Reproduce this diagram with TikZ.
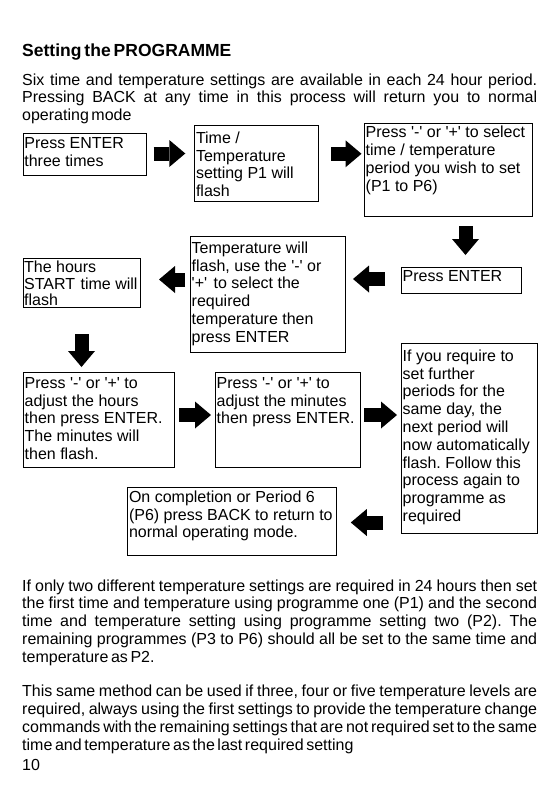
\documentclass[tikz,border=0pt]{standalone}
\usepackage{fontspec}
\setmainfont{Liberation Sans}[Ligatures=TeXOff]
\usetikzlibrary{arrows.meta}
\frenchspacing
\newcommand{\bodyfont}{\fontsize{16}{17.8}\selectfont}
\newcommand{\tightsp}{\spaceskip=2.6pt plus 1pt minus 0.5pt\relax}
\newcommand{\parasetup}{\bodyfont\frenchspacing\tolerance=10000\hyphenpenalty=10000\exhyphenpenalty=10000\spaceskip=4.45pt plus 4pt minus 2pt\relax}
\begin{document}
\begin{tikzpicture}[x=1pt,y=-1pt,
  box/.style={draw=black, line width=1pt, anchor=north west, inner sep=0pt},
  boxtxt/.style={anchor=north west, align=left, inner sep=0pt, font=\fontsize{16}{17.8}\selectfont\frenchspacing},
  para/.style={anchor=north west, inner sep=0pt, text width=515pt, align=justify, font=\parasetup},
  barrow/.style={line width=14pt, -{Triangle[width=27pt,length=16pt,line width=0pt]}}
]
\useasboundingbox[fill=white] (0,0) rectangle (559,793);

% heading and paragraphs
\node[anchor=base west, inner sep=0pt, font=\fontsize{17.5}{20}\selectfont\bfseries] (h) at (22,56) {\spaceskip=3pt\relax Setting the PROGRAMME};
\node[para] (p1) at (22,73.3) {\noindent Six time and temperature settings are available in each 24 hour period.\linebreak Pressing BACK at any time in this process will return you to normal\linebreak {\tightsp operating mode}};

% boxes
\node[box, minimum width=123pt, minimum height=42pt] (b1) at (22.7,133) {};
\node[box, minimum width=124pt, minimum height=76pt] (b2) at (194.3,125) {};
\node[box, minimum width=168pt, minimum height=93pt] (b3) at (364,123) {};
\node[box, minimum width=120pt, minimum height=26pt] (b4) at (401,267) {};
\node[box, minimum width=155pt, minimum height=116pt] (b5) at (190,236) {};
\node[box, minimum width=117pt, minimum height=49pt] (b6) at (23,258) {};
\node[box, minimum width=151pt, minimum height=95pt] (b7) at (23,372) {};
\node[box, minimum width=145pt, minimum height=95pt] (b8) at (215,372) {};
\node[box, minimum width=136pt, minimum height=190pt] (b9) at (401,343) {};
\node[box, minimum width=209pt, minimum height=68pt] (b10) at (127.3,487) {};

% box texts
\node[boxtxt] (t1) at ([xshift=1.5pt,yshift=-4pt]b1.north west) {Press ENTER\\three times};
\node[boxtxt] (t2) at ([xshift=1.5pt,yshift=-6.5pt]b2.north west) {Time /\\Temperature\\setting P1 will\\flash};
\node[boxtxt] (t3) at ([xshift=1.5pt,yshift=-3pt]b3.north west) {Press '-' or '+' to select\\time / temperature\\period you wish to set\\(P1 to P6)};
\node[boxtxt] (t4) at ([xshift=1.5pt,yshift=-3.7pt]b4.north west) {Press ENTER};
\node[boxtxt] (t5) at ([xshift=1.5pt,yshift=-5.5pt]b5.north west) {Temperature will\\flash, use the '-' or\\'+'\hspace{2pt} to select the\\required\\temperature then\\press ENTER};
\node[boxtxt, font=\fontsize{16}{16.5}\selectfont] (t6) at ([xshift=1pt,yshift=-3pt]b6.north west) {The hours\\START\hspace{1pt} time will\\flash};
\node[boxtxt] (t7) at ([xshift=1.5pt,yshift=-5pt]b7.north west) {Press '-' or '+' to\\adjust the hours\\then press ENTER.\\The minutes will\\then flash.};
\node[boxtxt] (t8) at ([xshift=1.5pt,yshift=-5pt]b8.north west) {Press '-' or '+' to\\adjust the minutes\\then press ENTER.};
\node[boxtxt] (t9) at ([xshift=1.5pt,yshift=-6.4pt]b9.north west) {If you require to\\set further\\periods for the\\same day, the\\next period will\\now automatically\\flash. Follow this\\process again to\\programme as\\required};
\node[boxtxt] (t10) at ([xshift=1.5pt,yshift=-3.4pt]b10.north west) {On completion or Period 6\\(P6) press BACK to return to\\normal operating mode.};

% block arrows
\draw[barrow, shorten <=7pt, shorten >=9pt] ([yshift=1pt]b1.east) -- ([yshift=1pt]b1.east -| b2.west);
\draw[barrow, shorten <=11.7pt, shorten >=2.5pt] ([yshift=9.7pt]b2.east) -- ([yshift=9.7pt]b2.east -| b3.west);
\draw[barrow, shorten <=9pt, shorten >=12pt] ([xshift=4pt]b4.north |- b3.south) -- ([xshift=4pt]b4.north);
\draw[barrow, shorten <=16pt, shorten >=7pt] ([yshift=1.5pt]b4.west) -- ([yshift=1.5pt]b4.west -| b5.east);
\draw[barrow, shorten <=5pt, shorten >=18pt] ([yshift=3.5pt]b6.east -| b5.west) -- ([yshift=3.5pt]b6.east);
\draw[barrow, shorten <=26pt, shorten >=5pt] ([xshift=-0.5pt]b6.south) -- ([xshift=-0.5pt]b6.south |- b7.north);
\draw[barrow, shorten <=4pt, shorten >=4pt] ([yshift=5pt]b7.east) -- ([yshift=5pt]b7.east -| b8.west);
\draw[barrow, shorten <=3pt, shorten >=4pt] ([yshift=5pt]b8.east) -- ([yshift=5pt]b8.east -| b9.west);
\draw[barrow, shorten <=18pt, shorten >=13.5pt] ([yshift=-1pt]b10.east -| b9.west) -- ([yshift=-1pt]b10.east);

% lower paragraphs
\node[para] (p2) at (22,579.3) {\noindent If only two different temperature settings are required in 24 hours then set\linebreak the first time and temperature using programme one (P1) and the second\linebreak time and temperature setting using programme setting two (P2). The\linebreak remaining programmes (P3 to P6) should all be set to the same time and\linebreak {\tightsp temperature as P2.}};
\node[para] (p3) at (22,685) {\noindent This same method can be used if three, four or five temperature levels are\linebreak required, always using the first settings to provide the temperature change\linebreak commands with the remaining settings that are not required set to the same\linebreak {\tightsp time and temperature as the last required setting}};
\node[anchor=base west, inner sep=0pt, font=\bodyfont] (pg) at (22,770) {10};
\end{tikzpicture}
\end{document}
